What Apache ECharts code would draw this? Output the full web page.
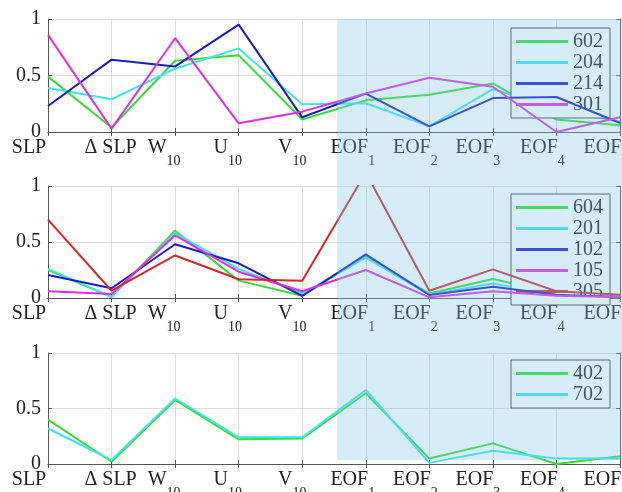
<!DOCTYPE html>
<html><head><meta charset="utf-8">
<script src="https://cdn.jsdelivr.net/npm/echarts@6/dist/echarts.min.js"></script>
<style>html,body{margin:0;padding:0;background:#fff}#c{width:622px;height:492px}</style>
</head><body><div id="c"></div>
<script>
// ---- data ----
const labelMain = ['SLP', 'Δ SLP', 'W', 'U', 'V', 'EOF', 'EOF', 'EOF', 'EOF', 'EOF'];
const labelSub  = ['', '', '10', '10', '10', '1', '2', '3', '4', '5'];
const categories = labelMain.map((m, i) => m + labelSub[i]);
const yTicks = [0, 0.5, 1];

// panel 1
const names1 = ['602', '204', '214', '301'];
const s602 = [0.49, 0.04, 0.63, 0.68, 0.11, 0.28, 0.33, 0.43, 0.11, 0.06];
const s204 = [0.39, 0.29, 0.56, 0.74, 0.245, 0.254, 0.05, 0.38, 0.20, 0.09];
const s214 = [0.23, 0.64, 0.58, 0.95, 0.13, 0.34, 0.05, 0.30, 0.31, 0.08];
const s301 = [0.86, 0.03, 0.83, 0.077, 0.18, 0.34, 0.48, 0.40, 0.0, 0.13];
// panel 2
const names2 = ['604', '201', '102', '105', '305'];
const s604 = [0.25, 0.01, 0.60, 0.155, 0.02, 0.375, 0.04, 0.17, 0.04, 0.02];
const s201 = [0.26, 0.01, 0.58, 0.26, 0.04, 0.36, 0.03, 0.13, 0.03, 0.02];
const s102 = [0.205, 0.087, 0.48, 0.31, 0.018, 0.39, 0.027, 0.10, 0.03, 0.01];
const s105 = [0.06, 0.036, 0.56, 0.235, 0.06, 0.25, 0.006, 0.06, 0.02, 0.01];
const s305 = [0.70, 0.065, 0.38, 0.167, 0.155, 1.12, 0.065, 0.256, 0.06, 0.03];
// panel 3
const names3 = ['402', '702'];
const s402 = [0.40, 0.02, 0.577, 0.222, 0.23, 0.637, 0.05, 0.186, 0.0, 0.07];
const s702 = [0.32, 0.036, 0.59, 0.24, 0.24, 0.667, 0.01, 0.12, 0.05, 0.05];

const shadeFrom = 4, shadeFrac = 0.55; // shading starts 55% of the way from V10 to EOF1
const shadeBottom = 0.035;             // bottom of shading on lowest panel's y scale

// ---- styles ----
const FONT = 'Liberation Serif';
const TXT = '#222';
const GREEN = '#35dc35', CYAN = '#3ee4f0', BLUE = '#1c1cbc', MAGENTA = '#e02ee0', RED = '#d42828';
const labelShift = [19, 1, 11, 11, 10, 13, 14, 15, 14, 14];

const panels = [
  {top: 19, height: 113, legendTop: 28, names: names1, data: [s602, s204, s214, s301], colors: [GREEN, CYAN, BLUE, MAGENTA]},
  {top: 186, height: 112, legendTop: 194, names: names2, data: [s604, s201, s102, s105, s305], colors: [GREEN, CYAN, BLUE, MAGENTA, RED]},
  {top: 353, height: 111, legendTop: 360, names: names3, data: [s402, s702], colors: [GREEN, CYAN]}
];

const rich = {};
labelMain.forEach((m, i) => {
  const pr = 2 * labelShift[i];
  rich['b' + i] = {fontFamily: FONT, fontSize: 20, color: TXT, lineHeight: 20, verticalAlign: 'top', padding: [0, labelSub[i] ? 0 : pr, 0, 0]};
  rich['s' + i] = {fontFamily: FONT, fontSize: 14, color: TXT, lineHeight: 14, verticalAlign: 'top', padding: [16, pr, 0, 0]};
});
function xFmt(v, i) {
  let s = '{b' + i + '|' + labelMain[i] + '}';
  if (labelSub[i]) s += '{s' + i + '|' + labelSub[i] + '}';
  return s;
}

const grids = [], xAxes = [], yAxes = [], series = [], legends = [];
const axisLine = {show: true, lineStyle: {color: '#555', width: 1}};
const splitLine = {show: true, interval: 0, lineStyle: {color: '#dcdcdc', width: 1}};
const tick = {show: true, inside: true, length: 4, interval: 0, alignWithLabel: true, lineStyle: {color: '#555'}};
const n = panels.length;
panels.forEach((p, g) => {
  grids.push({left: 48, right: 2, top: p.top, height: p.height, show: false, containLabel: false, outerBoundsMode: 'none'});
  xAxes[g] = {type: 'category', data: categories, boundaryGap: false, gridIndex: g, position: 'bottom',
    axisLine, axisTick: tick, splitLine,
    axisLabel: {show: true, interval: 0, margin: 6, formatter: xFmt, rich: rich, hideOverlap: false}};
  xAxes[n + g] = {type: 'category', data: categories, boundaryGap: false, gridIndex: g, position: 'top',
    axisLine, axisTick: tick, splitLine: {show: false}, axisLabel: {show: false}};
  yAxes[g] = {type: 'value', gridIndex: g, min: yTicks[0], max: yTicks[yTicks.length - 1], interval: 0.5, position: 'left',
    axisLine, axisTick: tick, splitLine,
    axisLabel: {show: true, margin: 7, fontFamily: FONT, fontSize: 20, color: TXT, formatter: v => String(v), hideOverlap: false}};
  yAxes[n + g] = {type: 'value', gridIndex: g, min: 0, max: 1, interval: 0.5, position: 'right',
    axisLine, axisTick: tick, splitLine: {show: false}, axisLabel: {show: false}};
  p.names.forEach((nm, k) => {
    series.push({type: 'line', name: nm, xAxisIndex: g, yAxisIndex: g, clip: true,
      data: p.data[k], showSymbol: false, symbol: 'none',
      lineStyle: {color: p.colors[k], width: 2}, itemStyle: {color: p.colors[k]}, z: 2 + k});
  });
  legends.push({data: p.names, orient: 'vertical', left: 511, top: p.legendTop,
    icon: 'rect', itemWidth: 52, itemHeight: 3, itemGap: 0,
    padding: [3, 7, 3, 5], backgroundColor: '#fff', borderColor: '#444', borderWidth: 1,
    textStyle: {fontFamily: FONT, fontSize: 20, color: TXT, lineHeight: 21, padding: [0, 0, 0, 0]},
    selectedMode: false});
});

const chart = echarts.init(document.getElementById('c'), null, {renderer: 'canvas'});
chart.setOption({animation: false, backgroundColor: '#fff', grid: grids, xAxis: xAxes, yAxis: yAxes, legend: legends, series});

const pa = chart.convertToPixel({xAxisIndex: 0, yAxisIndex: 0}, [shadeFrom, 1]);
const pb = chart.convertToPixel({xAxisIndex: 0, yAxisIndex: 0}, [shadeFrom + 1, 1]);
const pR = chart.convertToPixel({xAxisIndex: 0, yAxisIndex: 0}, [categories.length - 1, 1]);
const pB = chart.convertToPixel({xAxisIndex: n - 1, yAxisIndex: n - 1}, [categories.length - 1, shadeBottom]);
const x0 = pa[0] + shadeFrac * (pb[0] - pa[0]);
chart.setOption({graphic: [{type: 'rect', z: 100, silent: true,
  shape: {x: x0, y: pa[1], width: pR[0] - x0 + 2, height: pB[1] - pa[1]},
  style: {fill: 'rgba(120,200,235,0.32)'}}]});
</script>
</body></html>
